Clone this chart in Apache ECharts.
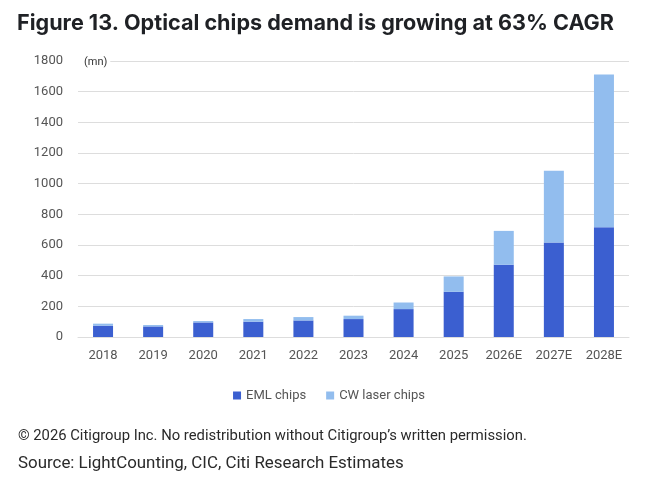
<!DOCTYPE html>
<html>
<head>
<meta charset="utf-8">
<script src="https://cdn.jsdelivr.net/npm/echarts@6/dist/echarts.min.js"></script>
<style>
  html, body { margin: 0; padding: 0; background: #fff; }
  #chart { width: 658px; height: 486px; }
</style>
</head>
<body>
<div id="chart"></div>
<script>
// data (mn units)
var years = ["2018", "2019", "2020", "2021", "2022", "2023", "2024", "2025", "2026E", "2027E", "2028E"];
var emlChips = [74, 69, 95, 100, 108, 117, 182, 295, 471, 616, 716];
var cwLaserChips = [13, 9, 9, 17, 22, 22, 43, 100, 221, 469, 996];
var yTicks = [0, 200, 400, 600, 800, 1000, 1200, 1400, 1600, 1800];

var chart = echarts.init(document.getElementById("chart"));
var option = {
  backgroundColor: "#fff",
  animation: false,
  title: [
    {
      text: "Figure 13. Optical chips demand is growing at 63% CAGR",
      left: 17,
      top: 12,
      padding: 0,
      textStyle: { fontFamily: "Inter", fontWeight: "bold", fontSize: 21.6, color: "#1f2125" },
    },
    {
      text: "© 2026 Citigroup Inc. No redistribution without Citigroup’s written permission.",
      left: 18,
      top: 429,
      padding: 0,
      textStyle: { fontFamily: "Roboto", fontWeight: "normal", fontSize: 14.8, color: "#2a2a2a" },
    },
    {
      text: "Source: LightCounting, CIC, Citi Research Estimates",
      left: 18,
      top: 455,
      padding: 0,
      textStyle: { fontFamily: "Roboto", fontWeight: "normal", fontSize: 16.9, color: "#2a2a2a" },
    },
  ],
  legend: {
    top: 384,
    left: "center",
    itemWidth: 8,
    itemHeight: 8,
    itemGap: 20,
    icon: "rect",
    textStyle: { fontFamily: "Roboto", fontSize: 13, color: "#555" },
    data: ["EML chips", "CW laser chips"],
  },
  grid: { left: 78, right: 29, top: 61, bottom: 149 },
  xAxis: {
    type: "category",
    data: years,
    axisLine: { lineStyle: { color: "#ddd" } },
    axisTick: { show: false },
    axisLabel: { fontFamily: "Roboto", fontSize: 13, color: "#555", margin: 12 },
  },
  yAxis: {
    type: "value",
    min: yTicks[0],
    max: yTicks[yTicks.length - 1],
    interval: 200,
    name: "(mn)",
    nameLocation: "end",
    nameGap: -1,
    nameTextStyle: {
      fontFamily: "Roboto", fontSize: 11, color: "#333", align: "left",
      backgroundColor: "#fff", padding: [0, 3, 0, 6],
      verticalAlign: "middle",
    },
    axisLine: { show: false },
    axisTick: { show: false },
    splitLine: { lineStyle: { color: "#ddd" } },
    axisLabel: {
      fontFamily: "Roboto", fontSize: 13, color: "#555", margin: 15,
      formatter: function (v) { return String(v); },
    },
  },
  series: [
    {
      name: "EML chips",
      type: "bar",
      stack: "total",
      barWidth: 20,
      data: emlChips,
      itemStyle: { color: "#3b5fd0" },
    },
    {
      name: "CW laser chips",
      type: "bar",
      stack: "total",
      barWidth: 20,
      data: cwLaserChips,
      itemStyle: { color: "#92bdee" },
    },
  ],
};
chart.setOption(option);
</script>
</body>
</html>
